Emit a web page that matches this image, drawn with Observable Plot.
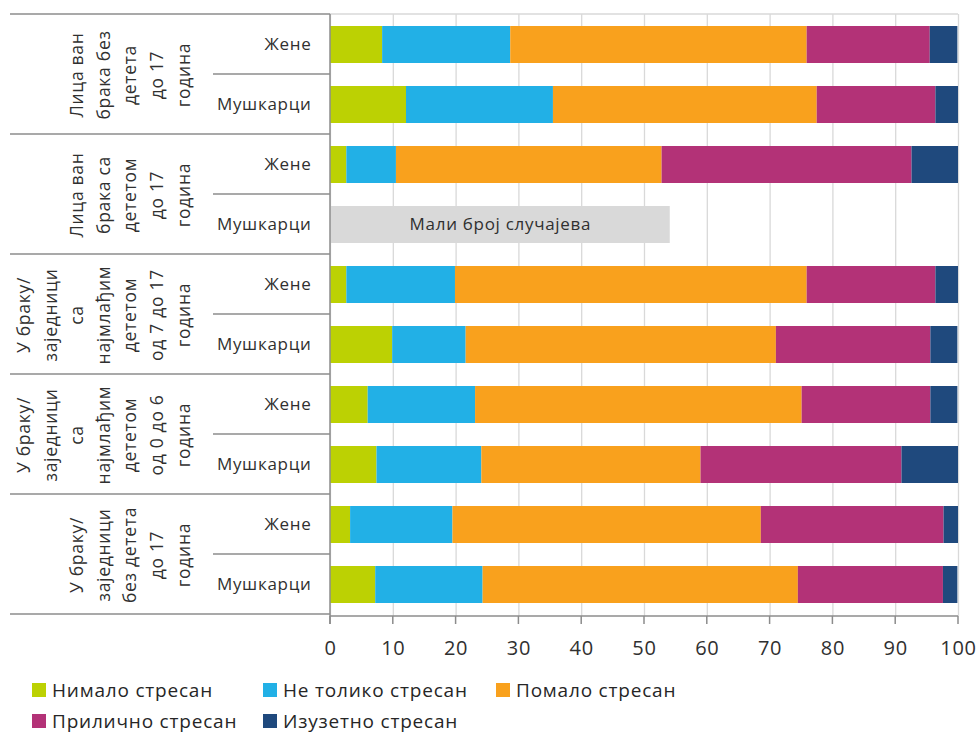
<!DOCTYPE html>
<html>
<head>
<meta charset="utf-8">
<script src="https://cdn.jsdelivr.net/npm/d3@7"></script>
<script src="https://cdn.jsdelivr.net/npm/@observablehq/plot@0.6"></script>
<style>
  body { margin: 0; background: #fff; font-family: "Open Sans", "Noto Sans", sans-serif; overflow: hidden; }
  #chart svg { display: block; }
  .legend { position: relative; height: 65px; font-size: 19px; letter-spacing: 0.8px; color: #262626; }
  .item { position: absolute; display: flex; align-items: center; white-space: nowrap; line-height: 20px; height: 20px; }
  .sw { width: 14px; height: 14px; margin-right: 6px; }
</style>
</head>
<body>
<div id="chart"></div>
<div class="legend" id="legend"></div>
<script>
// ---- data ----
const groups = [
  "Лица ван\nбрака без\nдетета\nдо 17\nгодина",
  "Лица ван\nбрака са\nдететом\nдо 17\nгодина",
  "У браку/\nзаједници\nса\nнајмлађим\nдететом\nод 7 до 17\nгодина",
  "У браку/\nзаједници\nса\nнајмлађим\nдететом\nод 0 до 6\nгодина",
  "У браку/\nзаједници\nбез детета\nдо 17\nгодина"
];
const genders = ["Жене", "Мушкарци"];
const categories = ["Нимало стресан", "Не толико стресан", "Помало стресан", "Прилично стресан", "Изузетно стресан"];
const colors = ["#bcd103", "#22b0e6", "#f9a11d", "#b33277", "#1f497d"];
// values per row (group, gender), in category order; null = small number of cases
const values = [
  [8.3, 20.4, 47.2, 19.6, 4.4],
  [12.1, 23.4, 42.0, 18.9, 3.6],
  [2.6, 7.9, 42.3, 39.8, 7.4],
  null,
  [2.6, 17.3, 56.0, 20.5, 3.6],
  [9.9, 11.7, 49.4, 24.6, 4.3],
  [6.0, 17.1, 52.0, 20.5, 4.3],
  [7.4, 16.7, 34.9, 32.0, 9.0],
  [3.2, 16.3, 49.1, 29.1, 2.3],
  [7.2, 17.1, 50.2, 23.1, 2.3]
];
const smallNote = "Мали број случајева";
const smallWidth = 54.1;
const xTicks = [0, 10, 20, 30, 40, 50, 60, 70, 80, 90, 100];

// ---- build tables ----
const rows = [];
groups.forEach((g, gi) => genders.forEach((s, si) => rows.push({key: gi + "|" + si, group: g, gi, gender: s, idx: gi * 2 + si})));
const rowKeys = rows.map(r => r.key);
const bars = [];
rows.forEach(r => {
  const v = values[r.idx];
  if (!v) return;
  v.forEach((val, ci) => bars.push({row: r.key, cat: categories[ci], value: val, order: ci}));
});
const smallRows = rows.filter(r => !values[r.idx]).map(r => ({row: r.key, x1: 0, x2: smallWidth, label: smallNote}));
const groupRows = rows.filter(r => r.gender === genders[0]);

const textColor = "#303030";
const fontFamily = "'Open Sans', 'Noto Sans', sans-serif";

const chart = Plot.plot({
  width: 979,
  height: 668,
  marginLeft: 330,
  marginRight: 21,
  marginTop: 14,
  marginBottom: 52,
  style: {fontFamily, fontSize: "17px", color: textColor, background: "#fff", letterSpacing: "0.7px"},
  x: {domain: [0, 100], ticks: xTicks, tickSize: 0, label: null, axis: null},
  y: {domain: rowKeys, paddingInner: 0.38, paddingOuter: 0.19, axis: null},
  color: {domain: categories, range: colors},
  marks: [
    Plot.gridX(xTicks, {stroke: "#d9d9d9", strokeOpacity: 1, strokeWidth: 1.3}),
    Plot.barX(bars, Plot.stackX({x: "value", y: "row", fill: "cat", order: categories, inset: 0})),
    Plot.barX(smallRows, {x1: "x1", x2: "x2", y: "row", fill: "#d9d9d9", inset: 0}),
    Plot.text(smallRows, {x: d => (d.x1 + d.x2) / 2, y: "row", text: "label", fontSize: 17, fill: textColor}),
    Plot.text(rows, {y: "key", text: "gender", frameAnchor: "left", textAnchor: "end", dx: -19, fontSize: 17, fill: textColor}),
    Plot.text(groupRows, {y: "key", text: "group", frameAnchor: "left", rotate: -90, textAnchor: "middle", lineAnchor: "bottom", lineHeight: 1.52, dx: -141, dy: 30, fontSize: 17.5, fill: textColor}),
    Plot.axisX(xTicks, {tickSize: 0, tickPadding: 24, fontSize: 20, fill: textColor, label: null, tickFormat: d => d})
  ]
});
document.getElementById("chart").appendChild(chart);

// table lines and axis lines placed from Plot's own scales
const ys = chart.scale("y"), xs = chart.scale("x");
const svg = d3.select(chart);
const y0 = ys.range[0], y1 = ys.range[1], step = ys.step;
const xLeft = xs.apply(0), xRight = xs.apply(100);
const lines = svg.append("g").attr("stroke-linecap", "butt");
lines.append("line").attr("x1", xLeft).attr("x2", xRight).attr("y1", y0).attr("y2", y0).attr("stroke", "#d9d9d9").attr("stroke-width", 1.3);
for (let i = 0; i <= rows.length; i++) {
  const y = y0 + i * step;
  const isGroup = i % 2 === 0;
  lines.append("line")
    .attr("x1", isGroup ? 10 : 213).attr("x2", xLeft)
    .attr("y1", y).attr("y2", y)
    .attr("stroke", "#8c8c8c").attr("stroke-width", 1.5);
}
lines.append("line").attr("x1", xLeft).attr("x2", xLeft).attr("y1", y0).attr("y2", y1 + 8).attr("stroke", "#8c8c8c").attr("stroke-width", 1.5);
lines.append("line").attr("x1", xLeft).attr("x2", xRight).attr("y1", y1).attr("y2", y1).attr("stroke", "#8c8c8c").attr("stroke-width", 1.5);
xTicks.forEach(t => {
  lines.append("line").attr("x1", xs.apply(t)).attr("x2", xs.apply(t)).attr("y1", y1).attr("y2", y1 + 8).attr("stroke", "#8c8c8c").attr("stroke-width", 1.5);
});

// legend
const legendPos = [[32, 22], [263, 22], [496, 22], [32, 53], [263, 53]];
const legend = document.getElementById("legend");
categories.forEach((c, i) => {
  const it = document.createElement("div");
  it.className = "item";
  it.style.left = legendPos[i][0] + "px";
  it.style.top = (legendPos[i][1] - 10) + "px";
  it.innerHTML = `<span class="sw" style="background:${colors[i]}"></span><span>${c}</span>`;
  legend.appendChild(it);
});
</script>
</body>
</html>
